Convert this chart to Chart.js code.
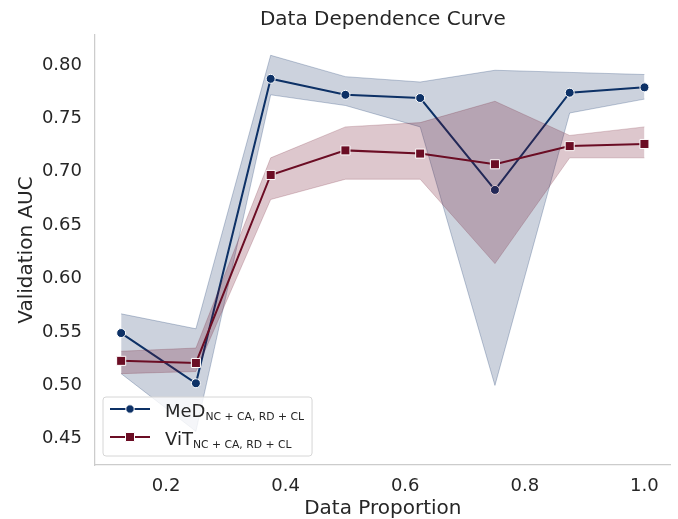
<!DOCTYPE html>
<html>
<head>
<meta charset="utf-8">
<script src="https://cdn.jsdelivr.net/npm/chart.js@4.4.0/dist/chart.umd.min.js"></script>
<style>
  html, body { margin: 0; padding: 0; background: #fff; }
  canvas { display: block; }
</style>
</head>
<body>
<canvas id="myChart" width="678" height="519"></canvas>
<script>
// DATA

var proportions = [0.125, 0.25, 0.375, 0.5, 0.625, 0.75, 0.875, 1.0];

var medMean  = [0.549, 0.502, 0.787, 0.772, 0.769, 0.683, 0.774, 0.779];
var medUpper = [0.567, 0.553, 0.809, 0.789, 0.784, 0.795, 0.793, 0.791];
var medLower = [0.511, 0.457, 0.772, 0.762, 0.742, 0.500, 0.755, 0.768];

var vitMean  = [0.523, 0.521, 0.697, 0.720, 0.717, 0.707, 0.724, 0.726];
var vitUpper = [0.532, 0.535, 0.713, 0.742, 0.746, 0.766, 0.734, 0.742];
var vitLower = [0.511, 0.513, 0.674, 0.693, 0.693, 0.614, 0.713, 0.713];

var seriesNames = ['MeD', 'ViT'];
var seriesSub = 'NC + CA, RD + CL';

var xTicks = [0.2, 0.4, 0.6, 0.8, 1.0];
var yTicks = [0.45, 0.50, 0.55, 0.60, 0.65, 0.70, 0.75, 0.80];

var medColor = '#0d3166';
var vitColor = '#6b0d24';
var textColor = '#262626';

Chart.defaults.font.family = "'DejaVu Sans', sans-serif";
Chart.defaults.color = textColor;

function pts(values) {
  return proportions.map(function(p, i) { return { x: p, y: values[i] }; });
}

// LEGEND (drawn by hand so the subscripts work)

var subLegend = {
  id: 'subLegend',
  afterDraw: function(chart) {
    var ctx = chart.ctx;
    var area = chart.chartArea;
    var left = area.left + 8, top = area.bottom - 68;
    var mainFont = "18px 'DejaVu Sans'";
    var subFont = "10.8px 'DejaVu Sans'";
    var colors = [medColor, vitColor];
    var styles = ['circle', 'rect'];

    ctx.save();
    var maxW = 0;
    seriesNames.forEach(function(n) {
      ctx.font = mainFont;
      var w = ctx.measureText(n).width;
      ctx.font = subFont;
      w += ctx.measureText(seriesSub).width;
      if (w > maxW) maxW = w;
    });
    var w = 62 + maxW + 8, h = 59, r = 3;

    ctx.beginPath();
    ctx.moveTo(left + r, top);
    ctx.arcTo(left + w, top, left + w, top + h, r);
    ctx.arcTo(left + w, top + h, left, top + h, r);
    ctx.arcTo(left, top + h, left, top, r);
    ctx.arcTo(left, top, left + w, top, r);
    ctx.closePath();
    ctx.fillStyle = 'rgba(255,255,255,0.8)';
    ctx.fill();
    ctx.strokeStyle = '#d6d6d6';
    ctx.lineWidth = 1;
    ctx.stroke();

    seriesNames.forEach(function(n, i) {
      var cy = top + 12 + i * 28;
      ctx.strokeStyle = colors[i];
      ctx.lineWidth = 2;
      ctx.beginPath();
      ctx.moveTo(left + 7, cy);
      ctx.lineTo(left + 47, cy);
      ctx.stroke();

      ctx.fillStyle = colors[i];
      ctx.strokeStyle = '#fff';
      ctx.lineWidth = 1;
      ctx.beginPath();
      if (styles[i] === 'circle') {
        ctx.arc(left + 27, cy, 4.2, 0, Math.PI * 2);
      } else {
        ctx.rect(left + 27 - 4.5, cy - 4.5, 9, 9);
      }
      ctx.fill();
      ctx.stroke();

      ctx.fillStyle = textColor;
      ctx.textBaseline = 'alphabetic';
      ctx.textAlign = 'left';
      ctx.font = mainFont;
      ctx.fillText(n, left + 62, cy + 8);
      var nw = ctx.measureText(n).width;
      ctx.font = subFont;
      ctx.fillText(seriesSub, left + 62 + nw, cy + 11.3);
    });
    ctx.restore();
  }
};

// CHART

var ctx = document.getElementById('myChart').getContext('2d');

var chart = new Chart(ctx, {
  type: 'line',
  data: {
    datasets: [
      {
        label: 'MeD upper',
        data: pts(medUpper),
        borderColor: 'rgba(13,49,102,0.25)',
        borderWidth: 1,
        backgroundColor: 'rgba(14,41,96,0.21)',
        pointRadius: 0,
        fill: '+1',
        order: 4
      },
      {
        label: 'MeD lower',
        data: pts(medLower),
        borderColor: 'rgba(13,49,102,0.25)',
        borderWidth: 1,
        pointRadius: 0,
        fill: false,
        order: 4
      },
      {
        label: 'MeD',
        data: pts(medMean),
        borderColor: medColor,
        backgroundColor: medColor,
        borderWidth: 2,
        pointStyle: 'circle',
        pointRadius: 4.5,
        pointBorderColor: '#ffffff',
        pointBorderWidth: 1,
        pointBackgroundColor: medColor,
        fill: false,
        order: 3
      },
      {
        label: 'ViT upper',
        data: pts(vitUpper),
        borderColor: 'rgba(107,13,36,0.2)',
        borderWidth: 1,
        backgroundColor: 'rgba(110,12,38,0.23)',
        pointRadius: 0,
        fill: '+1',
        order: 2
      },
      {
        label: 'ViT lower',
        data: pts(vitLower),
        borderColor: 'rgba(107,13,36,0.2)',
        borderWidth: 1,
        pointRadius: 0,
        fill: false,
        order: 2
      },
      {
        label: 'ViT',
        data: pts(vitMean),
        borderColor: vitColor,
        backgroundColor: vitColor,
        borderWidth: 2,
        pointStyle: 'rect',
        pointRadius: 6.4,
        pointBorderColor: '#ffffff',
        pointBorderWidth: 1,
        pointBackgroundColor: vitColor,
        fill: false,
        order: 1
      }
    ]
  },
  options: {
    responsive: false,
    animation: false,
    devicePixelRatio: 1,
    layout: { padding: { left: 0, right: 6, top: 0, bottom: 0 } },
    elements: { line: { tension: 0 } },
    plugins: {
      legend: { display: false },
      tooltip: { enabled: false },
      title: {
        display: true,
        text: 'Data Dependence Curve',
        color: textColor,
        fullSize: false,
        font: { size: 20, weight: 'normal' },
        padding: { top: 8, bottom: 3 }
      }
    },
    scales: {
      x: {
        type: 'linear',
        min: 0.08125,
        max: 1.04375,
        afterBuildTicks: function(scale) {
          scale.ticks = xTicks.map(function(v) { return { value: v }; });
        },
        afterFit: function(scale) { scale.height = 54; },
        grid: { display: false, drawTicks: false },
        border: { display: true, color: '#cccccc', width: 1.25 },
        ticks: {
          padding: 11,
          color: textColor,
          font: { size: 18 },
          maxRotation: 0,
          callback: function(v) { return v.toFixed(1); }
        },
        title: {
          display: true,
          text: 'Data Proportion',
          color: textColor,
          font: { size: 20, lineHeight: 1 },
          padding: { top: 0, bottom: 0 }
        }
      },
      y: {
        type: 'linear',
        min: 0.4255,
        max: 0.828,
        afterBuildTicks: function(scale) {
          scale.ticks = yTicks.map(function(v) { return { value: v }; });
        },
        afterFit: function(scale) { scale.width = 95; },
        grid: { display: false, drawTicks: false },
        border: { display: true, color: '#cccccc', width: 1.25 },
        ticks: {
          padding: 13,
          color: textColor,
          font: { size: 18 },
          callback: function(v) { return v.toFixed(2); }
        },
        title: {
          display: true,
          text: 'Validation AUC',
          color: textColor,
          font: { size: 20 },
          padding: { top: 14.7, bottom: 0 }
        }
      }
    }
  },
  plugins: [subLegend]
});
</script>
</body>
</html>
